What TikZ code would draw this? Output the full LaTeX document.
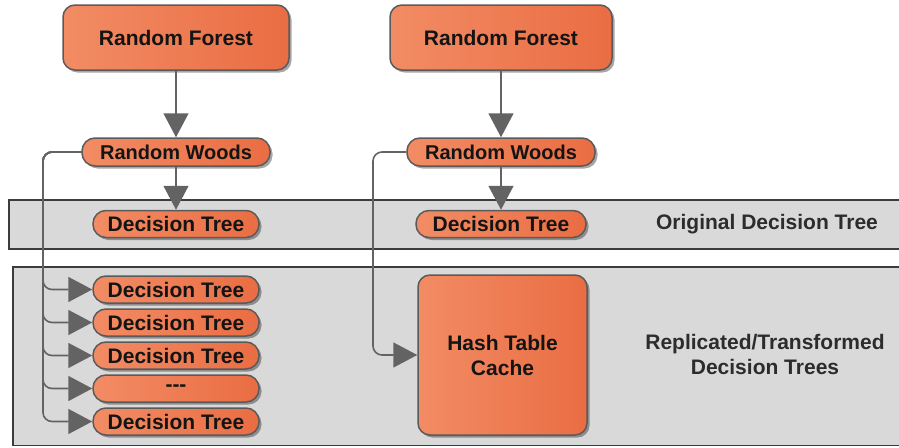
\documentclass[tikz,border=0pt]{standalone}
\usepackage{fontspec}
\setmainfont{Liberation Sans}
\usetikzlibrary{arrows.meta,shadows}
\definecolor{boxlight}{HTML}{F28C64}
\definecolor{boxdark}{HTML}{EA6D43}
\definecolor{boxedge}{HTML}{5A5A5A}
\definecolor{bandfill}{HTML}{D9D9D9}
\definecolor{bandedge}{HTML}{3C3C3C}
\definecolor{wire}{HTML}{636363}
\definecolor{ink}{HTML}{141414}

\tikzset{
  box/.style={draw=boxedge, line width=1.5pt, left color=boxlight, right color=boxdark,
    drop shadow={shadow xshift=2.5pt, shadow yshift=-2.5pt, opacity=0.35, fill=black},
    font=\bfseries\fontsize{21}{25}\selectfont, text=ink, inner sep=0pt, align=center},
  bigbox/.style={box, rounded corners=12pt},
  pill/.style={box, rounded corners=13pt, minimum height=27pt, minimum width=166pt},
  band/.style={draw=bandedge, fill=bandfill, line width=1.8pt},
  bandlabel/.style={font=\bfseries\fontsize{21}{25}\selectfont, text=ink!90, align=center},
  wirearrow/.style={draw=wire, line width=1.6pt, -{Triangle[length=24pt,width=25pt]}},
}

\begin{document}
\begin{tikzpicture}[x=1pt, y=-1pt]
  \useasboundingbox (0,0) rectangle (899,447);

  % background bands
  \path[band] (9,200) rectangle (910,249);
  \path[band] (13,267) rectangle (910,445.5);

  % left column
  \node[bigbox, minimum width=226pt, minimum height=65pt] (rf1) at (176,37.5) {Random Forest};
  \node[pill, minimum width=188pt, minimum height=28pt, font=\bfseries\fontsize{20}{24}\selectfont] (rw1) at (176,152) {Random Woods};
  \node[pill] (dt0) at (176,224) {Decision Tree};
  \node[pill] (dt1) at (176,289.5) {Decision Tree};
  \node[pill] (dt2) at (176,322.5) {Decision Tree};
  \node[pill] (dt3) at (176,355.5) {Decision Tree};
  \node[pill] (dt4) at (176,388.5) {-{}-{}-};
  \node[pill] (dt5) at (176,421.5) {Decision Tree};

  % right column
  \node[bigbox, minimum width=222pt, minimum height=65pt] (rf2) at (501,37.5) {Random Forest};
  \node[pill, minimum width=188pt, minimum height=28pt, font=\bfseries\fontsize{20}{24}\selectfont] (rw2) at (501,152) {Random Woods};
  \node[pill, minimum width=170pt] (dtr) at (501,224) {Decision Tree};
  \node[bigbox, minimum width=169pt, minimum height=160pt] (hash) at (502.5,355) {Hash Table\\Cache};

  % band labels
  \node[bandlabel] (lab1) at (767,224) {Original Decision Tree};
  \node[bandlabel] (lab2) at (765,354) {Replicated/Transformed\\Decision Trees};

  % connectors
  \coordinate (bus1) at (43,152);
  \coordinate (bus2) at (373,152);

  \draw[wirearrow] (rf1) -- (rw1);
  \draw[wirearrow] (rw1) -- (dt0);
  \foreach \t in {dt1,dt2,dt3,dt4,dt5}
    \draw[wirearrow, rounded corners=9pt] (rw1.west) -- (bus1) |- (\t.west);

  \draw[wirearrow] (rf2) -- (rw2);
  \draw[wirearrow] (rw2) -- (dtr);
  \draw[wirearrow, rounded corners=9pt] (rw2.west) -- (bus2) |- (hash.west);
\end{tikzpicture}
\end{document}
